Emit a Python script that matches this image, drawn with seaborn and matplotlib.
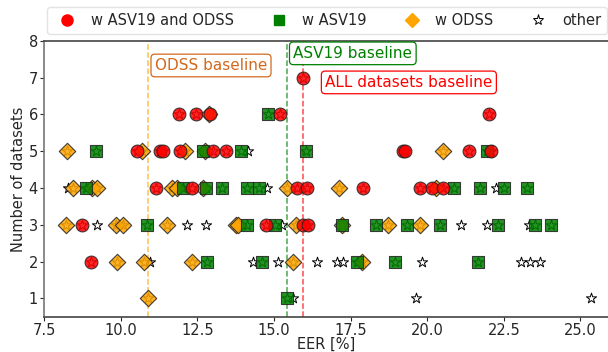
import numpy as np
import pandas as pd
import matplotlib
matplotlib.use("Agg")
import matplotlib.pyplot as plt
from matplotlib.lines import Line2D
import seaborn as sns

# ---------------- data (EER %, number of datasets) ----------------
both_x = [15.95,
          11.91, 12.47, 12.90, 15.19, 22.02,
          10.52, 11.28, 11.39, 11.93, 13.02, 13.43, 19.20, 19.27, 21.37, 22.08,
          11.14, 12.31, 15.74, 16.08, 17.91, 19.76, 20.14, 20.52,
          8.72, 14.73, 15.95, 16.10,
          9.02]
both_y = [7,
          6, 6, 6, 6, 6,
          5, 5, 5, 5, 5, 5, 5, 5, 5, 5,
          4, 4, 4, 4, 4, 4, 4, 4,
          3, 3, 3, 3,
          2]

asv_x = [14.82,
         9.18, 12.69, 13.93, 16.03, 21.94,
         8.85, 12.04, 12.77, 13.31, 14.11, 14.51, 20.87, 21.72, 22.51, 23.27,
         10.86, 14.11, 15.03, 17.21, 18.33, 19.35, 20.41, 22.32, 23.51, 24.03,
         12.82, 14.60, 17.70, 18.96, 21.66,
         15.41]
asv_y = [6,
         5, 5, 5, 5, 5,
         4, 4, 4, 4, 4, 4, 4, 4, 4, 4,
         3, 3, 3, 3, 3, 3, 3, 3, 3, 3,
         2, 2, 2, 2, 2,
         1]

odss_x = [12.88,
          8.23, 10.68, 12.10, 12.75, 20.52,
          8.45, 9.05, 9.23, 11.66, 11.82, 12.69, 15.41, 17.13, 20.30,
          8.20, 9.84, 10.08, 11.52, 13.75, 13.83, 15.72, 17.21, 18.73, 19.76,
          9.86, 10.76, 12.31, 15.63, 17.86,
          10.88]
odss_y = [6,
          5, 5, 5, 5, 5,
          4, 4, 4, 4, 4, 4, 4, 4, 4,
          3, 3, 3, 3, 3, 3, 3, 3, 3, 3,
          2, 2, 2, 2, 2,
          1]

other_x = [14.15,
           8.27, 14.76, 22.24,
           9.23, 12.15, 12.77, 15.25, 21.09, 21.94, 23.33,
           10.95, 14.32, 15.14, 16.39, 17.06, 17.24, 19.82, 23.06, 23.35, 23.67,
           15.63, 19.65, 25.34]
other_y = [5,
           4, 4, 4,
           3, 3, 3, 3, 3, 3, 3,
           2, 2, 2, 2, 2, 2, 2, 2, 2, 2,
           1, 1, 1]

baseline_names = ["ODSS baseline", "ASV19 baseline", "ALL datasets baseline"]
baseline_eer = [10.89, 15.41, 15.95]

# ---------------- figure ----------------
sns.set_style("ticks")
plt.rcParams["font.family"] = ["DejaVu Sans"]

fig = plt.figure(figsize=(6.08, 3.52), dpi=100)
ax = fig.add_axes([0.0727, 0.100, 0.9273, 0.784])

# every configuration drawn as a star underneath
all_df = pd.DataFrame({
    "EER": other_x + both_x + asv_x + odss_x,
    "n": other_y + both_y + asv_y + odss_y,
})
sns.scatterplot(data=all_df, x="EER", y="n", ax=ax, marker="*", s=60,
                color="white", edgecolor="black", linewidth=0.7,
                legend=False, zorder=2)

groups = [
    (odss_x, odss_y, "D", "orange", 70),
    (asv_x, asv_y, "s", "green", 75),
    (both_x, both_y, "o", "red", 85),
]
for gx, gy, mk, col, sz in groups:
    df = pd.DataFrame({"EER": gx, "n": gy})
    sns.scatterplot(data=df, x="EER", y="n", ax=ax, marker=mk, s=sz,
                    color=col, edgecolor="#222222", linewidth=0.8,
                    alpha=0.85, legend=False, zorder=3)

line_cols = ["orange", "green", "red"]
text_cols = ["chocolate", "green", "red"]
text_pos = [(0.22, 7.33), (0.22, 7.66), (0.72, 6.87)]
for name, xv, lc, tc, (dx, ty) in zip(baseline_names, baseline_eer, line_cols, text_cols, text_pos):
    ax.axvline(xv, color=lc, linestyle="--", linewidth=1.1, alpha=0.7, zorder=1)
    ax.text(xv + dx, ty, name, color=tc, fontsize=11, va="center", ha="left",
            bbox=dict(boxstyle="round,pad=0.25", facecolor="white", edgecolor=tc, linewidth=0.9),
            zorder=5)

ax.set_xlim(7.5, 25.9)
ax.set_ylim(0.5, 8)
ax.set_xticks([7.5, 10.0, 12.5, 15.0, 17.5, 20.0, 22.5, 25.0])
ax.set_xticklabels(["7.5", "10.0", "12.5", "15.0", "17.5", "20.0", "22.5", "25.0"])
ax.set_yticks(range(1, 9))
ax.tick_params(labelsize=10.5, length=3, pad=1.5)
ax.set_xlabel("EER [%]", fontsize=10.5)
ax.xaxis.label.set_va("center")
ax.xaxis.set_label_coords(0.5, -0.101)
ax.set_ylabel("Number of datasets", fontsize=10.5, labelpad=2)
for side in ["left", "bottom", "top"]:
    ax.spines[side].set_color("#444444")
    ax.spines[side].set_linewidth(1.2)
ax.spines["left"].set_color("#777777")
ax.spines["right"].set_visible(False)

handles = [
    Line2D([], [], linestyle="none", marker="o", color="red", markersize=8),
    Line2D([], [], linestyle="none", marker="s", color="green", markersize=7.5),
    Line2D([], [], linestyle="none", marker="D", color="orange", markersize=7.5),
    Line2D([], [], linestyle="none", marker="*", markerfacecolor="white",
           markeredgecolor="black", markeredgewidth=0.7, markersize=8),
]
labels = ["w ASV19 and ODSS", "w ASV19", "w ODSS", "other"]
fig.legend(handles, labels, loc="lower left", bbox_to_anchor=(0.077, 0.903, 0.921, 0.077),
           mode="expand", ncol=4, fontsize=10.5, frameon=True, borderaxespad=0,
           handletextpad=0.6, edgecolor="#dddddd", fancybox=True)

fig.savefig("out.png", dpi=100)
